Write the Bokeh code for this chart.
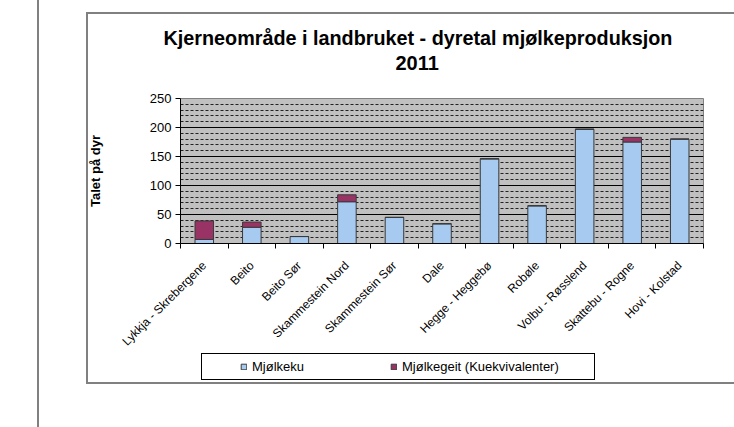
from math import pi
from bokeh.plotting import figure
from bokeh.layouts import column
from bokeh.models import (Range1d, FactorRange, LinearAxis, CategoricalAxis, FixedTicker,
                          CustomJSTickFormatter, Legend, LegendItem, Title)
from bokeh.embed import file_html
from bokeh.resources import INLINE

# ---- data ----
categories = ["Lykkja - Skrebergene", "Beito", "Beito Sør", "Skammestein Nord",
              "Skammestein Sør", "Dale", "Hegge - Heggebø", "Robøle",
              "Volbu - Røsslend", "Skattebu - Rogne", "Hovi - Kolstad"]
mjolkeku = [7, 28, 12, 72, 45, 34, 146, 65, 197, 175, 180]
mjolkegeit = [32, 9, 0, 12, 0, 0, 0, 0, 0, 8, 0]
series_names = ["Mjølkeku", "Mjølkegeit (Kuekvivalenter)"]
series_colors = ["#A6CAF0", "#993366"]
y_major_ticks = [0, 50, 100, 150, 200, 250]
y_minor_ticks = [v for v in range(10, 250, 10) if v % 50 != 0]
title_line1 = "Kjerneområde i landbruket - dyretal mjølkeproduksjon"
title_line2 = "2011"
y_title = "Talet på dyr"

FONT = "Liberation Sans"
W = 734
HM, HL = 357, 70               # main chart / legend strip heights
FL, FR, FT, FB = 180, 703, 98, 243  # plot area in page px

source = dict(cat=categories, ku=mjolkeku, geit=mjolkegeit)

p = figure(width=W, height=HM, output_backend="svg", toolbar_location=None,
           x_range=FactorRange(*categories, range_padding=0), y_range=Range1d(0, 250),
           x_axis_location=None, y_axis_location=None, title=None,
           min_border_left=FL, min_border_right=W - FR, min_border_top=FT,
           min_border_bottom=HM - FB)
p.background_fill_color = "#C0C0C0"
p.border_fill_alpha = 0
p.outline_line_color = "#808080"
p.outline_line_width = 1

# y axis
yax = LinearAxis(ticker=FixedTicker(ticks=y_major_ticks, minor_ticks=y_minor_ticks),
                 axis_label=y_title, axis_label_standoff=44,
                 axis_label_text_font=FONT, axis_label_text_font_style="bold",
                 axis_label_text_font_size="13px", axis_label_text_color="black",
                 major_label_text_font=FONT, major_label_text_font_size="13px",
                 major_label_text_color="black", major_label_standoff=4,
                 major_tick_in=0, major_tick_out=5, major_tick_line_color="black",
                 minor_tick_line_color=None, axis_line_color="black")
p.add_layout(yax, "left")

# x axis: boundary ticks (synthetic coordinates) + category labels
tick_ax = LinearAxis(ticker=FixedTicker(ticks=list(range(len(categories) + 1)), minor_ticks=[]),
                     formatter=CustomJSTickFormatter(code="return ''"),
                     major_label_standoff=0, major_label_text_font_size="0px",
                     major_tick_in=0, major_tick_out=5, major_tick_line_color="black",
                     minor_tick_line_color=None, axis_line_color="black")
p.add_layout(tick_ax, "below")
cat_ax = CategoricalAxis(major_label_orientation=pi / 4, major_tick_line_color=None,
                         axis_line_color=None, major_label_standoff=9,
                         major_label_text_font=FONT, major_label_text_font_size="12px",
                         major_label_text_color="black")
p.add_layout(cat_ax, "below")

# grid
p.ygrid.ticker = FixedTicker(ticks=y_major_ticks, minor_ticks=y_minor_ticks)
p.ygrid.grid_line_color = "black"
p.ygrid.grid_line_width = 1
p.ygrid.minor_grid_line_color = "#222222"
p.ygrid.minor_grid_line_dash = "3 2"
p.xgrid.grid_line_color = None

# bars
p.vbar_stack(["ku", "geit"], x="cat", width=0.39, source=source,
             fill_color=series_colors, line_color="#3a3a3a", line_width=1)

# title (two lines, nearest to the plot first)
p.add_layout(Title(text=title_line2, align="left", offset=215, standoff=57,
                   text_font=FONT, text_font_style="bold", text_font_size="20px",
                   text_color="black"), "above")
p.add_layout(Title(text=title_line1, align="left", offset=-17, standoff=-46,
                   text_font=FONT, text_font_style="bold", text_font_size="19.8px",
                   text_color="black"), "above")

# legend strip (same data, renderers hidden so only the legend shows)
L = figure(width=W, height=HL, output_backend="svg", toolbar_location=None,
           x_range=FactorRange(*categories, range_padding=0), y_range=Range1d(-2, -1),
           x_axis_location=None, y_axis_location=None, title=None,
           min_border_left=FL, min_border_right=W - FR, min_border_top=0,
           min_border_bottom=HL - 30)
L.background_fill_alpha = 0
L.border_fill_alpha = 0
L.outline_line_color = None
L.xgrid.grid_line_color = None
L.ygrid.grid_line_color = None
rl = L.vbar_stack(["ku", "geit"], x="cat", width=0.39, source=source,
                  fill_color=series_colors, line_color="#3a3a3a", line_width=1)
for r in rl:
    r.visible = False
legend = Legend(items=[LegendItem(label=n, renderers=[r]) for n, r in zip(series_names, rl)],
                orientation="horizontal", location=(60, 13), padding=0, margin=0,
                spacing=0, glyph_width=7, glyph_height=7, label_standoff=5,
                label_width=138, label_text_font=FONT, label_text_font_size="13px",
                label_text_color="black", border_line_color=None,
                background_fill_alpha=0, inactive_fill_alpha=0)
L.add_layout(legend)

# page decorations drawn as CSS backgrounds (page line, chart frame, legend box)
G = "linear-gradient(#808080,#808080)"
K = "linear-gradient(#000,#000)"
root = column(p, L, spacing=0, styles={
    "background-color": "white",
    "background-repeat": "no-repeat",
    "background-image": ", ".join([G, G, G, G, K, K, K, K]),
    "background-size": ", ".join(["2px 100%", "2px 372px", "660px 2px", "660px 2px",
                                  "394px 1px", "394px 1px", "1px 27px", "1px 27px"]),
    "background-position": ", ".join(["37px 0px", "86px 12px", "86px 12px", "86px 382px",
                                      "201px 353px", "201px 379px", "201px 353px", "594px 353px"]),
})

open("out.html", "w").write(file_html(root, INLINE))
